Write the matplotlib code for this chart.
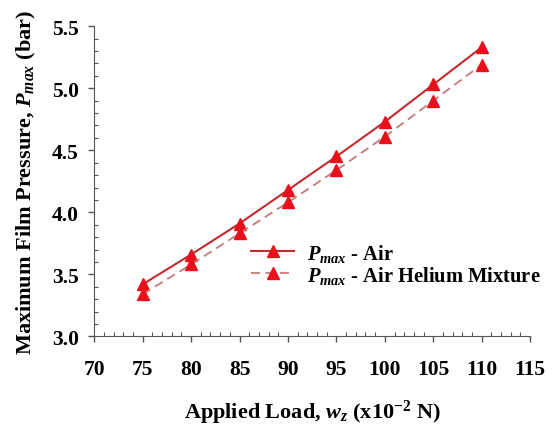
import numpy as np
import matplotlib
matplotlib.use("Agg")
import matplotlib.pyplot as plt
from matplotlib.ticker import MultipleLocator, FormatStrFormatter

plt.rcParams['font.family'] = ['Liberation Serif', 'DejaVu Serif']
plt.rcParams['font.weight'] = 'bold'
plt.rcParams['mathtext.fontset'] = 'custom'
plt.rcParams['mathtext.rm'] = 'Liberation Serif:bold'
plt.rcParams['mathtext.it'] = 'Liberation Serif:italic'
plt.rcParams['mathtext.bf'] = 'Liberation Serif:bold'

# applied load (x10^-2 N)
load = [75, 80, 85, 90, 95, 100, 105, 110]
# maximum film pressure (bar)
p_air = [3.42, 3.66, 3.91, 4.18, 4.45, 4.73, 5.03, 5.33]
p_mix = [3.34, 3.58, 3.83, 4.08, 4.34, 4.61, 4.90, 5.19]

fig = plt.figure(figsize=(5.54, 4.31), dpi=100)
ax = fig.add_axes([0.170, 0.217, 0.787, 0.720])

ax.plot(load, p_air, color='#c42a2c', lw=1.5, marker='^', ms=9,
        mfc='#e8101a', mec='#e8101a', label='$P_{max}$ - Air')
ax.plot(load, p_mix, color='#c87878', lw=1.3, ls=(0, (5, 3)), marker='^', ms=9,
        mfc='#e8101a', mec='#e8101a', label='$P_{max}$ - Air Helium Mixture')

ax.set_xlim(70, 115)
ax.set_ylim(3.0, 5.5)
ax.xaxis.set_major_locator(MultipleLocator(5))
ax.xaxis.set_minor_locator(MultipleLocator(1))
ax.yaxis.set_major_locator(MultipleLocator(0.5))
ax.yaxis.set_minor_locator(MultipleLocator(0.1))
ax.yaxis.set_major_formatter(FormatStrFormatter('%.1f'))

ax.tick_params(which='major', direction='out', length=4, width=1, color='#555555',
               labelsize=15.5)
ax.tick_params(axis='x', which='major', pad=12)
ax.tick_params(axis='y', which='major', pad=7)
ax.tick_params(which='minor', direction='in', length=3, width=0.8, color='#555555')
for s in ['top', 'right']:
    ax.spines[s].set_visible(False)
for s in ['left', 'bottom']:
    ax.spines[s].set_color('#555555')

ax.set_xlabel('Applied Load, $w_z$ (x10$^{-2}$ N)', fontsize=16, fontweight='bold', labelpad=14)
ax.set_ylabel('Maximum Film Pressure, $P_{max}$ (bar)', fontsize=16, fontweight='bold', labelpad=10)

ax.legend(loc='center left', bbox_to_anchor=(0.36, 0.235), frameon=False,
          handlelength=2.1, labelspacing=0.0, prop={'size': 14.8, 'weight': 'bold'},
          borderpad=0, borderaxespad=0, handletextpad=0.6)

fig.savefig('out.png', dpi=100)
